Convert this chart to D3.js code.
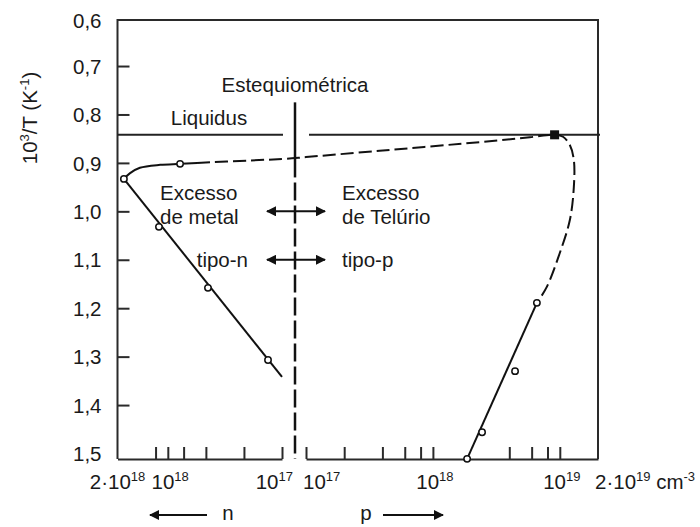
<!DOCTYPE html>
<html>
<head>
<meta charset="utf-8">
<script src="https://cdn.jsdelivr.net/npm/d3@7"></script>
<style>
  body { margin: 0; background: #fff; }
  text { font-family: "Liberation Sans", Arial, sans-serif; fill: #1a1a1a; }
</style>
</head>
<body>
<svg width="700" height="527"></svg>
<script>
// 1000/T values on the left axis
var yTicks = [0.6, 0.7, 0.8, 0.9, 1.0, 1.1, 1.2, 1.3, 1.4, 1.5];
// bottom axis ticks (cm^-3), electrons on the left, holes on the right
var nTicks = [1e18, 8e17, 6e17, 4e17, 2e17, 1e17];
var pTicks = [1e17, 2e17, 4e17, 6e17, 8e17, 1e18, 4e18, 6e18, 8e18, 1e19];
var nLabels = [[2e18, "2\u00B710", "18"], [1e18, "10", "18"], [1e17, "10", "17"]];
var pLabels = [[1e17, "10", "17"], [1e18, "10", "18"], [1e19, "10", "19"]];

var liquidus = 0.842;

// n-type branch: straight part and the rounded top (concentration, 10^3/T)
var nBranch = [[1.0e17, 1.342], [1.78e18, 0.933]];
var nTop = [[1.78e18, 0.933], [1.59e18, 0.921], [1.33e18, 0.910], [9.2e17, 0.904], [6.4e17, 0.902], [4.7e17, 0.900]];
// dashed solidus across the stoichiometric line: [side, concentration, 10^3/T]
var topDashed = [
  ["n", 4.7e17, 0.900], ["n", 1.79e17, 0.895], ["n", 1.0e17, 0.892], ["s", 0, 0.890],
  ["p", 1.0e17, 0.888], ["p", 3.8e17, 0.875], ["p", 2.35e18, 0.857], ["p", 5.8e18, 0.847],
  ["p", 9.1e18, 0.842], ["p", 1.06e19, 0.846], ["p", 1.2e19, 0.863], ["p", 1.29e19, 0.894],
  ["p", 1.29e19, 0.950], ["p", 1.2e19, 1.018], ["p", 1.0e19, 1.086], ["p", 7.9e18, 1.156],
  ["p", 6.6e18, 1.189]
];
// p-type branch straight part
var pBranch = [[6.6e18, 1.189], [1.86e18, 1.511]];

// measured points
var nPoints = [[1.29e17, 1.307], [3.85e17, 1.158], [9.4e17, 1.032], [1.78e18, 0.933], [6.4e17, 0.902]];
var pPoints = [[6.6e18, 1.189], [4.44e18, 1.330], [2.44e18, 1.456], [1.86e18, 1.511]];
var maxPoint = [9.1e18, 0.842];

var svg = d3.select("svg");
var frame = {left: 117.5, right: 598, top: 20, bottom: 459};
var fs = 20.5;

var xN = d3.scaleLog().domain([2e18, 1e17]).range([frame.left, 282]);
var xP = d3.scaleLog().domain([1e17, 2e19]).range([306, frame.right]);
var xS = (xN(1e17) + xP(1e17)) / 2 + 1;
var y = d3.scaleLinear().domain([0.6, 1.5]).range([17.6, 453.5]);

function xPos(side, c) {
  if (side == "n") return xN(c);
  if (side == "p") return xP(c);
  return xS;
}

var ink = "#111";

// frame
svg.append("path")
  .attr("d", "M" + frame.left + "," + frame.bottom + "V" + frame.top + "H" + frame.right + "V" + frame.bottom)
  .attr("fill", "none").attr("stroke", "#2a2a2a").attr("stroke-width", 2);

// left axis
var yAxis = svg.append("g").attr("transform", "translate(" + frame.left + ",0)")
  .call(d3.axisLeft(y).tickValues(yTicks).tickSize(-12).tickPadding(16)
    .tickFormat(function (d) { return d3.format(".1f")(d).replace(".", ","); }));
yAxis.select(".domain").remove();
yAxis.selectAll(".tick line").attr("stroke", "#2a2a2a").attr("stroke-width", 2)
  .filter(function (d) { return d == 0.6 || d == 1.5; }).remove();
yAxis.selectAll("text").attr("font-size", fs).attr("fill", ink).attr("font-family", null)
  .attr("dy", function (d) { return d == 0.6 ? "0.5em" : "0.35em"; });

// bottom axes
function bottomAxis(scale, ticks) {
  var g = svg.append("g").attr("transform", "translate(0," + frame.bottom + ")")
    .call(d3.axisBottom(scale).tickValues(ticks).tickSize(-12).tickSizeOuter(0).tickFormat(""));
  g.select(".domain").attr("stroke", "#2a2a2a").attr("stroke-width", 2);
  g.selectAll(".tick line").attr("stroke", "#2a2a2a").attr("stroke-width", 2);
  return g;
}
bottomAxis(xN, nTicks);
bottomAxis(xP, pTicks);

function supText(sel, base, sup, tail, tailSup) {
  sel.append("tspan").text(base);
  sel.append("tspan").attr("dy", -8).attr("font-size", 13).text(sup);
  if (tail) {
    sel.append("tspan").attr("dy", 8).text(tail);
    sel.append("tspan").attr("dy", -8).attr("font-size", 13).text(tailSup);
  }
}

var labelY = frame.bottom + 30;
nLabels.forEach(function (d, i) {
  var t = svg.append("text").attr("font-size", fs).attr("y", labelY);
  if (i == 0) t.attr("x", xN(d[0])).attr("text-anchor", "middle");
  else if (i == 1) t.attr("x", xN(d[0]) - 4);
  else t.attr("x", xN(d[0]) + 11).attr("text-anchor", "end");
  supText(t, d[1], d[2]);
});
pLabels.forEach(function (d, i) {
  var t = svg.append("text").attr("font-size", fs).attr("y", labelY);
  if (i == 0) t.attr("x", xP(d[0]) - 3);
  else t.attr("x", xP(d[0]) + 2).attr("text-anchor", "middle");
  supText(t, d[1], d[2]);
});
supText(svg.append("text").attr("font-size", fs).attr("x", frame.right - 3).attr("y", labelY),
  "2\u00B710", "19", " cm", "-3");

// y title
var yTitle = svg.append("text").attr("font-size", fs).attr("text-anchor", "middle")
  .attr("transform", "translate(37,118) rotate(-90)");
supText(yTitle, "10", "3", "/T (K", "-1");
yTitle.append("tspan").attr("dy", 8).text(")");

// liquidus
svg.append("line").attr("x1", frame.left).attr("x2", xN(1e17) + 1)
  .attr("y1", y(liquidus)).attr("y2", y(liquidus)).attr("stroke", "#222").attr("stroke-width", 2);
svg.append("line").attr("x1", xP(1e17) + 3).attr("x2", frame.right + 2)
  .attr("y1", y(liquidus)).attr("y2", y(liquidus)).attr("stroke", "#222").attr("stroke-width", 2);
svg.append("text").attr("font-size", fs).attr("x", 209).attr("y", y(liquidus) - 10)
  .attr("text-anchor", "middle").text("Liquidus");

// stoichiometric line
svg.append("line").attr("x1", xS).attr("x2", xS).attr("y1", y(0.775)).attr("y2", y(0.93))
  .attr("stroke", ink).attr("stroke-width", 2.5);
svg.append("line").attr("x1", xS).attr("x2", xS).attr("y1", y(0.93) + 5).attr("y2", frame.bottom)
  .attr("stroke", ink).attr("stroke-width", 2.5).attr("stroke-dasharray", "18,5");
svg.append("text").attr("font-size", fs).attr("x", xS).attr("y", 92)
  .attr("text-anchor", "middle").text("Estequiom\u00E9trica");

// curves
var lineNP = d3.line().x(function (d) { return xN(d[0]); }).y(function (d) { return y(d[1]); });
var lineMixed = d3.line().x(function (d) { return xPos(d[0], d[1]); }).y(function (d) { return y(d[2]); })
  .curve(d3.curveCatmullRom.alpha(0.5));

svg.append("path").attr("d", lineNP(nBranch))
  .attr("fill", "none").attr("stroke", ink).attr("stroke-width", 2);
svg.append("path").attr("d", lineNP.curve(d3.curveCatmullRom.alpha(0.5))(nTop))
  .attr("fill", "none").attr("stroke", ink).attr("stroke-width", 2);
svg.append("path").attr("d", lineMixed(topDashed))
  .attr("fill", "none").attr("stroke", ink).attr("stroke-width", 2).attr("stroke-dasharray", "13,5");
svg.append("path")
  .attr("d", d3.line().x(function (d) { return xP(d[0]); }).y(function (d) { return y(d[1]); })(pBranch))
  .attr("fill", "none").attr("stroke", ink).attr("stroke-width", 2);

// markers
svg.selectAll(".np").data(nPoints).enter().append("circle")
  .attr("cx", function (d) { return xN(d[0]); }).attr("cy", function (d) { return y(d[1]); })
  .attr("r", 3.2).attr("fill", "#fff").attr("stroke", ink).attr("stroke-width", 1.5);
svg.selectAll(".pp").data(pPoints).enter().append("circle")
  .attr("cx", function (d) { return xP(d[0]); }).attr("cy", function (d) { return y(d[1]); })
  .attr("r", 3.2).attr("fill", "#fff").attr("stroke", ink).attr("stroke-width", 1.5);
svg.append("rect").attr("x", xP(maxPoint[0]) - 4.5).attr("y", y(maxPoint[1]) - 4.5)
  .attr("width", 9).attr("height", 9).attr("fill", ink);

// arrows
var defs = svg.append("defs");
defs.append("marker").attr("id", "head").attr("viewBox", "0 0 10 10").attr("refX", 9).attr("refY", 5)
  .attr("markerWidth", 13).attr("markerHeight", 10).attr("markerUnits", "userSpaceOnUse")
  .attr("orient", "auto-start-reverse")
  .append("path").attr("d", "M0,0L10,5L0,10z").attr("fill", ink);

[1.0, 1.1].forEach(function (v) {
  svg.append("line").attr("x1", xS - 28).attr("x2", xS + 30).attr("y1", y(v)).attr("y2", y(v))
    .attr("stroke", ink).attr("stroke-width", 2)
    .attr("marker-start", "url(#head)").attr("marker-end", "url(#head)");
});

function block(x, anchor, lines, v) {
  var t = svg.append("text").attr("font-size", fs).attr("text-anchor", anchor);
  lines.forEach(function (s, i) {
    t.append("tspan").attr("x", x).attr("y", y(v) + (lines.length == 1 ? 7 : -11 + i * 24)).text(s);
  });
}
block(160, "start", ["Excesso", "de metal"], 1.0);
block(342, "start", ["Excesso", "de Tel\u00FArio"], 1.0);
block(248, "end", ["tipo-n"], 1.1);
block(342, "start", ["tipo-p"], 1.1);

// n / p direction arrows under the axis
var arrowY = 515;
svg.append("line").attr("x1", 207).attr("x2", 150).attr("y1", arrowY).attr("y2", arrowY)
  .attr("stroke", ink).attr("stroke-width", 2).attr("marker-end", "url(#head)");
svg.append("text").attr("font-size", fs).attr("x", 228).attr("y", 520).attr("text-anchor", "middle").text("n");
svg.append("text").attr("font-size", fs).attr("x", 366).attr("y", 520).attr("text-anchor", "middle").text("p");
svg.append("line").attr("x1", 383).attr("x2", 443).attr("y1", arrowY).attr("y2", arrowY)
  .attr("stroke", ink).attr("stroke-width", 2).attr("marker-end", "url(#head)");
</script>
</body>
</html>
